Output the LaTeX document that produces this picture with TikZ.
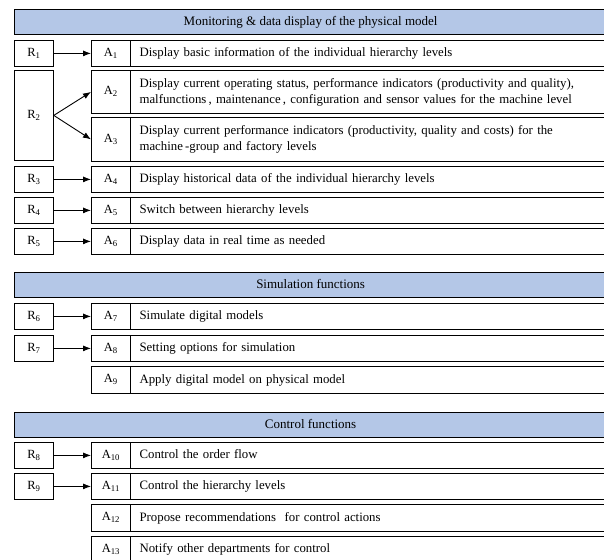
\documentclass[tikz,border=0pt]{standalone}
\usepackage{fontspec}
\setmainfont{Liberation Serif}
\usetikzlibrary{arrows.meta}
\definecolor{headblue}{RGB}{180,199,231}
\tikzset{
  rbox/.style={draw,line width=0.8pt,minimum width=39pt,minimum height=26pt,inner sep=0pt,anchor=north west,font=\fontsize{12.5}{15}\selectfont,execute at begin node=\strut},
  abox/.style={rbox},
  tcell/.style={draw,line width=1.2pt,minimum width=490pt,minimum height=26pt,text width=472pt,inner xsep=9pt,inner ysep=0pt,align=left,anchor=north west,font=\fontsize{12.8}{16}\selectfont,execute at begin node=\strut,execute at end node=\strut},
  head/.style={draw,fill=headblue,line width=1.2pt,minimum width=592pt,minimum height=25pt,inner sep=0pt,anchor=north west,font=\fontsize{13}{15}\selectfont,execute at begin node=\strut},
  link/.style={-{Latex[length=8pt,width=6pt]},line width=0.9pt}
}
\begin{document}
\begin{tikzpicture}[x=1pt,y=-1pt]
\useasboundingbox (0,0) rectangle (604,559);
\clip (0,0) rectangle (604,559);

\node[head](h1) at (14,9) {Monitoring \& data display of the physical model};

\node[tcell](t1) at (130,40) {Display basic information of the individual hierarchy levels};
\node[rbox](r1) at (14,40) {R\textsubscript{1}};
\node[abox](a1) at (91,40) {A\textsubscript{1}};

\node[tcell,minimum height=43pt](t2) at (130,70) {Display current operating status, performance indicators (productivity and quality),\\malfunctions\,, maintenance\,, configuration and sensor values for the machine level};
\node[rbox,minimum height=90pt](r2) at (14,70) {R\textsubscript{2}};
\node[abox,minimum height=43pt](a2) at (91,70) {A\textsubscript{2}};

\node[tcell,minimum height=44pt](t3) at (130,117) {Display current performance indicators (productivity, quality and costs) for the\\machine\,-group and factory levels};
\node[abox,minimum height=44pt](a3) at (91,117) {A\textsubscript{3}};

\node[tcell](t4) at (130,166) {Display historical data of the individual hierarchy levels};
\node[rbox](r3) at (14,166) {R\textsubscript{3}};
\node[abox](a4) at (91,166) {A\textsubscript{4}};

\node[tcell](t5) at (130,197) {Switch between hierarchy levels};
\node[rbox](r4) at (14,197) {R\textsubscript{4}};
\node[abox](a5) at (91,197) {A\textsubscript{5}};

\node[tcell](t6) at (130,228) {Display data in real time as needed};
\node[rbox](r5) at (14,228) {R\textsubscript{5}};
\node[abox](a6) at (91,228) {A\textsubscript{6}};

\node[head](h2) at (14,272) {Simulation functions};

\node[tcell](t7) at (130,303) {Simulate digital models};
\node[rbox](r6) at (14,303) {R\textsubscript{6}};
\node[abox](a7) at (91,303) {A\textsubscript{7}};

\node[tcell](t8) at (130,335) {Setting options for simulation};
\node[rbox](r7) at (14,335) {R\textsubscript{7}};
\node[abox](a8) at (91,335) {A\textsubscript{8}};

\node[tcell,minimum height=27pt](t9) at (130,366) {Apply digital model on physical model};
\node[abox,minimum height=27pt](a9) at (91,366) {A\textsubscript{9}};

\node[head](h3) at (14,412) {Control functions};

\node[tcell](t10) at (130,442) {Control the order flow};
\node[rbox](r8) at (14,442) {R\textsubscript{8}};
\node[abox](a10) at (91,442) {A\textsubscript{10}};

\node[tcell](t11) at (130,473) {Control the hierarchy levels};
\node[rbox](r9) at (14,473) {R\textsubscript{9}};
\node[abox](a11) at (91,473) {A\textsubscript{11}};

\node[tcell,minimum height=27pt](t12) at (130,504) {Propose recommendations\ \ for control actions};
\node[abox,minimum height=27pt](a12) at (91,504) {A\textsubscript{12}};

\node[tcell](t13) at (130,536) {Notify other departments for control};
\node[abox](a13) at (91,536) {A\textsubscript{13}};

\draw[link] (r1) -- (a1);
\draw[link] (r2.east) -- (a2.west);
\draw[link] (r2.east) -- (a3.west);
\draw[link] (r3) -- (a4);
\draw[link] (r4) -- (a5);
\draw[link] (r5) -- (a6);
\draw[link] (r6) -- (a7);
\draw[link] (r7) -- (a8);
\draw[link] (r8) -- (a10);
\draw[link] (r9) -- (a11);
\end{tikzpicture}
\end{document}
